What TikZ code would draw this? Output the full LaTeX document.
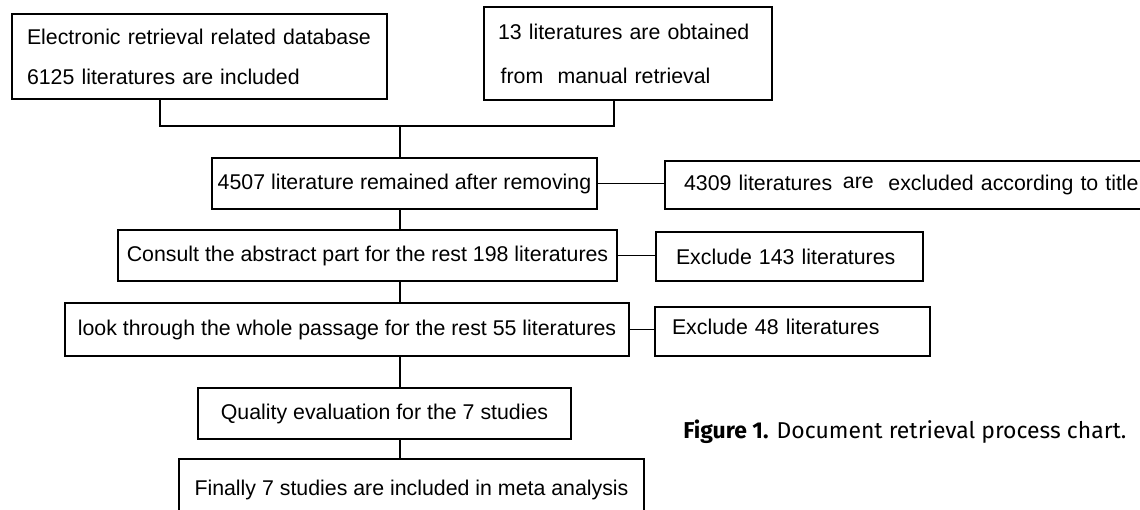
\documentclass[tikz,border=0pt]{standalone}
\usepackage{fontspec}
\setmainfont{Liberation Sans}
\newfontfamily\capfont{Fira Sans}
\usetikzlibrary{positioning}
\tikzstyle{stage}=[%
      rectangle, draw=black, line width=1.2pt, fill=white,
      minimum height=38.25pt, inner sep=0pt, align=center
]
\tikzstyle{sidestage}=[%
      stage, align=left, minimum height=36.75pt
]
\tikzstyle{link}=[draw=black, line width=1.2pt]

\begin{document}
\begin{tikzpicture}[x=0.75pt, y=-0.75pt, font=\fontsize{16}{19}\selectfont]
    \clip (0,0) rectangle (1140,510);

    \node[sidestage, minimum width=281.25pt, minimum height=63.75pt, text width=258.75pt,
          font=\fontsize{16}{30}\selectfont] (database) at (199.5,56.5)
          {Electronic retrieval related database\\6125 literatures are included};
    \node[sidestage, minimum width=216pt, minimum height=69.75pt, text width=195pt,
          font=\fontsize{16}{33}\selectfont] (manual) at (628,53.5)
          {13 literatures are obtained\\\hspace*{2pt}from\ \ manual retrieval};
    \node[stage, minimum width=288.75pt] (removing) at (404.5,183.5)
          {4507 literature remained after removing};
    \node[sidestage, minimum width=400pt, minimum height=36pt, text width=371.5pt] (title) at (931.7,185)
          {4309 literatures\hspace{8pt}\raisebox{1.2pt}{are}\hspace{11pt}excluded according to title};
    \node[stage, minimum width=374.25pt] (abstract) at (367.5,255.5)
          {Consult the abstract part for the rest 198 literatures};
    \node[sidestage, minimum width=200.25pt, text width=170.25pt] (excl143) at (789.5,256.5)
          {Exclude 143 literatures};
    \node[stage, minimum width=423pt, minimum height=39.75pt] (passage) at (347,329.5)
          {look through the whole passage for the rest 55 literatures};
    \node[sidestage, minimum width=206.25pt, text width=180.75pt,
          text height=12pt, text depth=7.25pt] (excl48) at (792.5,331.5)
          {Exclude 48 literatures};
    \node[stage, minimum width=279.75pt] (quality) at (384.5,413.5)
          {Quality evaluation for the 7 studies};
    \node[stage, anchor=north, minimum width=348.75pt, minimum height=60pt,
          text height=12pt, text depth=17pt] (meta) at (411.5,458)
          {Finally 7 studies are included in meta analysis};

    \node[anchor=west, inner sep=0pt, font=\capfont\fontsize{17.2}{20}\selectfont] (caption) at (683,432)
          {\textbf{Figure 1.} Document retrieval process chart.};

    \coordinate (join) at (400,126);
    \draw[link] ([xshift=-29.6pt]database.south) |- (join);
    \draw[link] ([xshift=-10.5pt]manual.south) |- (join);
    \draw[link] (join) -- (join |- removing.north);
    \draw[link] (removing.south -| join) -- (abstract.north -| join);
    \draw[link] (abstract.south -| join) -- (passage.north -| join);
    \draw[link] (passage.south -| join) -- (quality.north -| join);
    \draw[link] (quality.south -| join) -- (meta.north -| join);

    \draw[link] (removing.east) -- (removing.east -| title.west);
    \draw[link] (abstract.east) -- (abstract.east -| excl143.west);
    \draw[link] (passage.east) -- (passage.east -| excl48.west);
\end{tikzpicture}
\end{document}
